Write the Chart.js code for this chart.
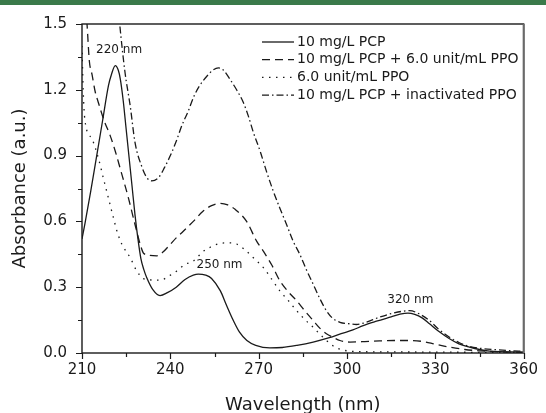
<!DOCTYPE html>
<html>
<head>
<meta charset="utf-8">
<script src="https://cdn.jsdelivr.net/npm/chart.js@4.4.1/dist/chart.umd.min.js"></script>
<style>
  html, body { margin: 0; padding: 0; background: #fff; }
  #wrap { position: relative; width: 546px; height: 413px; overflow: hidden; }
  #bar { position: absolute; left: 0; top: 0; width: 546px; height: 5px; background: #3b7a4a; }
  canvas { display: block; }
</style>
</head>
<body>
<div id="wrap">
  <canvas id="chart" width="546" height="413"></canvas>
  <div id="bar"></div>
</div>
<script>
(function() {
  // 10 mg/L PCP
  const pcpNm  = [210, 211, 213, 215, 217, 219, 220, 221.3, 222.3, 223, 224, 225, 226, 227, 228, 229, 230, 231, 232, 234, 236.5, 239, 242, 245, 247.8, 249.5, 252, 254, 257, 259, 261.4, 263.5, 266, 269, 273.8, 278, 283, 288.5, 294, 298, 302, 305.5, 310, 315, 318, 320.7, 323, 325.5, 328, 331, 334.8, 338, 341.6, 345, 348.4, 352, 356, 360];
  const pcpAbs = [0.52, 0.59, 0.74, 0.90, 1.06, 1.22, 1.27, 1.31, 1.29, 1.25, 1.15, 1.02, 0.89, 0.76, 0.63, 0.52, 0.43, 0.38, 0.343, 0.29, 0.262, 0.275, 0.30, 0.335, 0.355, 0.36, 0.355, 0.34, 0.283, 0.22, 0.148, 0.095, 0.057, 0.035, 0.023, 0.025, 0.035, 0.05, 0.07, 0.088, 0.105, 0.125, 0.145, 0.165, 0.177, 0.182, 0.176, 0.16, 0.133, 0.10, 0.065, 0.042, 0.027, 0.016, 0.009, 0.006, 0.005, 0.004];

  // 10 mg/L PCP + 6.0 unit/mL PPO
  const pcpPpoNm  = [210, 211.7, 212.5, 213.4, 214.5, 215.6, 217.5, 219.6, 221.3, 223, 225.8, 228, 229.8, 230.9, 233, 235.4, 237.5, 239.9, 242, 244.4, 247.8, 251, 254, 256.9, 259.5, 262, 265.9, 269.3, 271.6, 274.5, 277.2, 280, 282.9, 285.5, 288.5, 291, 293, 295.5, 297.6, 301, 306, 311, 316, 321.3, 326, 330, 334.8, 340, 345, 350, 355, 360];
  const pcpPpoAbs = [1.75, 1.5, 1.33, 1.27, 1.19, 1.14, 1.06, 0.99, 0.92, 0.84, 0.705, 0.586, 0.494, 0.455, 0.445, 0.443, 0.46, 0.494, 0.525, 0.555, 0.60, 0.645, 0.672, 0.682, 0.675, 0.655, 0.60, 0.51, 0.464, 0.40, 0.329, 0.28, 0.238, 0.195, 0.148, 0.11, 0.088, 0.07, 0.057, 0.05, 0.052, 0.055, 0.057, 0.057, 0.052, 0.04, 0.027, 0.016, 0.01, 0.006, 0.004, 0.003];

  // 6.0 unit/mL PPO
  const ppoNm  = [210, 210.4, 211, 213.4, 215.6, 217.3, 219, 220.7, 222, 223.6, 226.4, 228.6, 231.5, 236.5, 240, 242.2, 245, 247.8, 251.2, 254, 256.9, 259.5, 262.5, 265.9, 268.2, 271.6, 274.5, 277.2, 280, 282.9, 285.5, 288.5, 291, 293, 295, 297, 300, 305, 315, 330, 345, 360];
  const ppoAbs = [1.40, 1.20, 1.06, 0.976, 0.886, 0.795, 0.705, 0.615, 0.55, 0.494, 0.434, 0.374, 0.336, 0.332, 0.355, 0.374, 0.404, 0.419, 0.464, 0.485, 0.50, 0.502, 0.497, 0.464, 0.434, 0.389, 0.335, 0.283, 0.24, 0.193, 0.155, 0.117, 0.083, 0.057, 0.035, 0.02, 0.01, 0.006, 0.005, 0.004, 0.003, 0.002];

  // 10 mg/L PCP + inactivated PPO
  const inactNm  = [220, 221.5, 222.8, 224.6, 226.4, 228, 230.3, 232, 233.7, 236, 238, 240, 242, 244, 246, 248, 250, 252.4, 254.5, 256.3, 258, 260.3, 262.5, 264.8, 266.5, 268.2, 270.5, 272.7, 274.9, 277.2, 279.5, 281.7, 284, 286.2, 288.5, 290.7, 293, 295, 297.6, 301, 303.2, 306, 311, 316, 321.3, 324, 328, 331, 334.8, 338, 341.6, 346, 350.7, 355, 360];
  const inactAbs = [1.95, 1.7, 1.5, 1.28, 1.124, 0.96, 0.85, 0.80, 0.785, 0.80, 0.845, 0.90, 0.965, 1.04, 1.10, 1.17, 1.22, 1.262, 1.29, 1.30, 1.29, 1.247, 1.20, 1.142, 1.08, 1.006, 0.92, 0.826, 0.74, 0.66, 0.585, 0.51, 0.449, 0.38, 0.314, 0.25, 0.193, 0.16, 0.14, 0.133, 0.13, 0.138, 0.163, 0.183, 0.193, 0.182, 0.148, 0.11, 0.072, 0.048, 0.03, 0.02, 0.015, 0.011, 0.008];

  const seriesLabels = ["10 mg/L PCP", "10 mg/L PCP + 6.0 unit/mL PPO", "6.0 unit/mL PPO", "10 mg/L PCP + inactivated PPO"];

  // peak annotations (text centre, in data units)
  const peakLabels = ["220 nm", "250 nm", "320 nm"];
  const peakLabelNm = [222.6, 256.7, 321.5];
  const peakLabelAbs = [1.38, 0.40, 0.243];

  const FONT = "'DejaVu Sans', sans-serif";
  const INK = "#1a1a1a";

  function pts(nm, abs) {
    return nm.map(function(x, i) { return { x: x, y: abs[i] }; });
  }

  function serie(label, nm, abs, dash) {
    return {
      label: label,
      data: pts(nm, abs),
      borderColor: INK,
      borderWidth: 1.3,
      borderDash: dash,
      pointRadius: 0,
      cubicInterpolationMode: "monotone",
      fill: false
    };
  }

  const extras = {
    id: "extras",
    afterDraw(chart) {
      const ctx = chart.ctx;
      const a = chart.chartArea;
      const xs = chart.scales.x;
      const ys = chart.scales.y;
      ctx.save();
      ctx.strokeStyle = INK;
      ctx.lineWidth = 1.2;
      ctx.setLineDash([]);

      // ticks
      ctx.beginPath();
      xs.ticks.forEach(function(t) {
        const px = Math.round(xs.getPixelForValue(t.value)) + 0.5;
        const len = Math.round(t.value) % 30 === 0 ? 6 : 4;
        ctx.moveTo(px, a.bottom);
        ctx.lineTo(px, a.bottom + len);
      });
      ys.ticks.forEach(function(t) {
        const py = Math.round(ys.getPixelForValue(t.value)) + 0.5;
        const len = Math.round(t.value * 100) % 30 === 0 ? 6 : 4;
        ctx.moveTo(a.left, py);
        ctx.lineTo(a.left - len, py);
      });
      ctx.stroke();

      // frame
      ctx.lineWidth = 1.4;
      ctx.strokeRect(a.left, a.top, a.right - a.left, a.bottom - a.top);
      ctx.strokeStyle = "#6a6a6a";
      ctx.lineWidth = 2;
      ctx.beginPath();
      ctx.moveTo(a.right, a.top);
      ctx.lineTo(a.right, a.bottom);
      ctx.stroke();

      // legend
      ctx.font = "14px " + FONT;
      ctx.textBaseline = "middle";
      ctx.textAlign = "left";
      ctx.fillStyle = INK;
      chart.data.datasets.forEach(function(ds, i) {
        const yy = 42 + i * 17.7;
        ctx.strokeStyle = INK;
        ctx.lineWidth = 1.3;
        ctx.setLineDash(ds.borderDash || []);
        ctx.beginPath();
        ctx.moveTo(262, yy);
        ctx.lineTo(294, yy);
        ctx.stroke();
        ctx.setLineDash([]);
        ctx.fillText(ds.label, 297, yy);
      });

      // peak labels
      ctx.font = "12px " + FONT;
      ctx.textAlign = "center";
      peakLabels.forEach(function(txt, i) {
        ctx.fillText(txt, xs.getPixelForValue(peakLabelNm[i]), ys.getPixelForValue(peakLabelAbs[i]));
      });
      ctx.restore();
    }
  };

  new Chart(document.getElementById("chart"), {
    type: "line",
    data: {
      datasets: [
        serie(seriesLabels[0], pcpNm, pcpAbs, []),
        serie(seriesLabels[1], pcpPpoNm, pcpPpoAbs, [8, 5]),
        serie(seriesLabels[2], ppoNm, ppoAbs, [1.5, 5.5]),
        serie(seriesLabels[3], inactNm, inactAbs, [7, 3, 1.5, 3])
      ]
    },
    options: {
      responsive: false,
      animation: false,
      layout: { padding: { top: 21, right: 20, left: 0, bottom: 0 } },
      plugins: { legend: { display: false }, tooltip: { enabled: false } },
      scales: {
        x: {
          type: "linear",
          min: 210,
          max: 360,
          grid: { display: false, drawTicks: false },
          border: { display: false },
          ticks: {
            stepSize: 15,
            autoSkip: false,
            maxRotation: 0,
            padding: 8,
            color: INK,
            font: { family: FONT, size: 15 },
            callback: function(v) { return Math.round(v) % 30 === 0 ? String(v) : ""; }
          },
          title: {
            display: true,
            text: "Wavelength (nm)",
            color: INK,
            font: { family: FONT, size: 18 },
            padding: { top: 0, bottom: -3 }
          },
          afterFit: function(s) { s.height = 60; }
        },
        y: {
          min: 0,
          max: 1.5,
          grid: { display: false, drawTicks: false },
          border: { display: false },
          ticks: {
            stepSize: 0.15,
            autoSkip: false,
            padding: 15,
            color: INK,
            font: { family: FONT, size: 15 },
            callback: function(v) { return Math.round(v * 100) % 30 === 0 ? v.toFixed(1) : ""; }
          },
          title: {
            display: true,
            text: "Absorbance (a.u.)",
            color: INK,
            font: { family: FONT, size: 18 },
            padding: { top: 10, bottom: 0 }
          },
          afterFit: function(s) { s.width = 82; }
        }
      }
    },
    plugins: [extras]
  });
})();
</script>
</body>
</html>
